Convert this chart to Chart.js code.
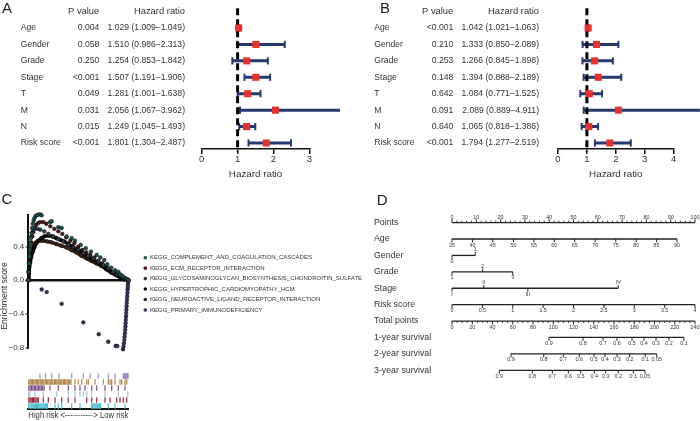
<!DOCTYPE html>
<html>
<head>
<meta charset="utf-8">
<script src="https://cdn.jsdelivr.net/npm/chart.js@4.4.1/dist/chart.umd.min.js"></script>
<style>
  body{margin:0;background:#fff}
  #fig{position:relative;width:700px;height:421px;overflow:hidden;background:#fff}
  canvas{position:absolute}
</style>
</head>
<body>
<div id="fig">
  <canvas id="chartA" width="340" height="180" style="left:0;top:0"></canvas>
  <canvas id="chartB" width="350" height="180" style="left:350px;top:0"></canvas>
  <canvas id="chartD" width="360" height="241" style="left:340px;top:180px"></canvas>
  <canvas id="chartC" width="380" height="185" style="left:0;top:180px"></canvas>
  <canvas id="chartRug" width="150" height="56" style="left:0;top:365px"></canvas>
</div>
<script>
// ---- forest plots (A: univariate, B: multivariate)
const rowLabels = ["Age","Gender","Grade","Stage","T","M","N","Risk score"];

const pA  = ["0.004","0.058","0.250","<0.001","0.049","0.031","0.015","<0.001"];
const hrA = [1.029,1.510,1.254,1.507,1.281,2.056,1.249,1.801];
const loA = [1.009,0.986,0.853,1.191,1.001,1.067,1.045,1.304];
const hiA = [1.049,2.313,1.842,1.906,1.638,3.962,1.493,2.487];

const pB  = ["<0.001","0.210","0.253","0.148","0.642","0.091","0.640","<0.001"];
const hrB = [1.042,1.333,1.266,1.394,1.084,2.089,1.065,1.794];
const loB = [1.021,0.850,0.845,0.888,0.771,0.889,0.818,1.277];
const hiB = [1.063,2.089,1.898,2.189,1.525,4.911,1.386,2.519];

const ticksA = [0,1,2,3];
const ticksB = [0,1,2,3,4];

// ---- GSEA running enrichment scores (C), [rank %, ES]
const esNames = [
  "KEGG_COMPLEMENT_AND_COAGULATION_CASCADES",
  "KEGG_ECM_RECEPTOR_INTERACTION",
  "KEGG_GLYCOSAMINOGLYCAN_BIOSYNTHESIS_CHONDROITIN_SULFATE",
  "KEGG_HYPERTROPHIC_CARDIOMYOPATHY_HCM",
  "KEGG_NEUROACTIVE_LIGAND_RECEPTOR_INTERACTION",
  "KEGG_PRIMARY_IMMUNODEFICIENCY"
];
const esComplement = [[0,0],[0.4,0.1],[0.8,0.2],[1.2,0.28],[1.6,0.36],[2,0.43],[2.6,0.5],[3.2,0.56],[3.8,0.62],[4.5,0.67],[5.3,0.71],[6.2,0.74],[7.2,0.76],[8.5,0.77],[10,0.78],[12,0.78],[13.4,0.77],[21.7,0.69],[23.4,0.7],[30,0.63],[33.4,0.62],[38.4,0.52],[43.4,0.5],[46.7,0.47],[52.4,0.42],[57.4,0.38],[62.7,0.34],[68.4,0.3],[72,0.27],[76,0.24],[79,0.19],[83,0.15],[87,0.12],[90,0.1],[92,0.07],[94,0.05],[96,0.03],[97.5,0.02],[99,0.01],[100,0]];
const esEcm = [[0,0],[0.5,0.12],[1,0.22],[1.5,0.3],[2.2,0.38],[3,0.45],[4,0.52],[5,0.57],[6.5,0.62],[8,0.66],[10,0.68],[12,0.69],[15,0.69],[18,0.67],[22,0.64],[26,0.61],[30,0.58],[34,0.55],[38,0.51],[42,0.47],[46,0.44],[50,0.4],[54,0.36],[58,0.33],[62,0.3],[66,0.27],[70,0.23],[74,0.2],[78,0.16],[82,0.12],[86,0.09],[90,0.06],[93,0.04],[96,0.02],[100,0]];
const esGlyco = [[0,0],[0.3,0.1],[0.7,0.2],[1.1,0.3],[1.6,0.38],[2.2,0.45],[3,0.52],[4,0.57],[5.2,0.6],[7,0.62],[9,0.61],[12,0.6],[16,0.58],[20,0.55],[25,0.52],[30,0.49],[35,0.46],[40,0.42],[45,0.39],[50,0.36],[55,0.32],[60,0.29],[65,0.26],[70,0.22],[75,0.18],[80,0.14],[85,0.1],[89,0.07],[93,0.05],[95.5,0.03],[98,0.015],[100,0]];
const esHcm = [[0,0],[0.5,0.08],[1,0.15],[2,0.22],[3,0.28],[4.5,0.34],[6,0.39],[8,0.44],[10,0.47],[13,0.5],[16,0.52],[20,0.53],[24,0.52],[28,0.5],[32,0.48],[36,0.46],[40,0.43],[44,0.4],[48,0.37],[52,0.34],[56,0.31],[60,0.28],[64,0.25],[68,0.22],[72,0.19],[76,0.16],[80,0.12],[84,0.09],[88,0.06],[92,0.03],[96,0.01],[100,0]];
const esNeuro = [[0,0],[0.5,0.1],[1,0.18],[2,0.26],[3,0.32],[4,0.37],[5.5,0.41],[7,0.44],[9,0.46],[12,0.47],[15,0.47],[19,0.46],[23,0.45],[28,0.43],[33,0.41],[38,0.39],[43,0.36],[48,0.33],[53,0.29],[58,0.26],[63,0.23],[68,0.2],[73,0.17],[78,0.13],[83,0.09],[88,0.06],[92,0.04],[95,0.03],[97,0.02],[100,0]];
const esImmuno = [[13.4,-0.11],[18.4,-0.14],[33.4,-0.28],[55,-0.5],[70.4,-0.64],[80,-0.73],[87.4,-0.78],[89,-0.78],[94.7,-0.82],[95.2,-0.79],[95.6,-0.75],[96,-0.71],[96.3,-0.67],[96.6,-0.63],[96.9,-0.59],[97.1,-0.55],[97.3,-0.51],[97.5,-0.47],[97.7,-0.43],[97.9,-0.39],[98.1,-0.35],[98.3,-0.31],[98.5,-0.27],[98.7,-0.23],[98.9,-0.19],[99.1,-0.15],[99.3,-0.11],[99.5,-0.08],[99.7,-0.05],[99.9,-0.02],[100,0]];
const esSeries = [esComplement, esEcm, esGlyco, esHcm, esNeuro, esImmuno];
const esTicks = [0.4, 0, -0.4, -0.8];

// gene hit positions (rank %) for the six rug rows
const rugLavender = [11.7,17.4,23.4,30.7,43.4,55,61.7,70,80,86.7,95,95.6,96.2,96.8,97.4,98,98.6,99.2,99.8];
const rugTan = [0.5,1.8,3,4.2,5.5,6.8,8,9.3,10.6,11.8,13,14.3,15.6,17,18.2,19.5,20.8,22,23.4,24.6,26,27.2,28.5,29.8,31,32.4,33.6,35,36.2,37.5,38.8,40,41.4,42.6,46.7,50,53.4,58.4,60,66.7,75,80,81.7,83.4,86.7,91.7,93.4,96.7,98.4];
const rugPurple = [0.5,1.8,3.2,4.6,6,7.4,8.8,10.2,11.6,13,14.4,15.8,21.7,30,40,46.7,51.7,56.7,63.4,68.4,76.7,83.4,90,96.7];
const rugBlue = [0.5,1.5,6.7,15,28.4,40,46.7,51.7,55,58.4,63.4,76.7,90,99.5];
const rugRed = [0.5,1.7,2.9,4.1,5.3,6.5,7.7,8.9,10,15,20,26.7,33.4,40,46.7,58.4,63.4,68.4,76.7,81.7,88.4,91.7,95,98.4];
const rugCyan = [0.5,1.6,2.7,3.8,4.9,6,7.1,8.2,9.3,10.4,11.5,12.6,13.7,14.8,15.9,17,18.1,19.2,26.7,30,33.4,43.4,51.7,63.4,64.5,65.6,66.7,67.8,69,70,71.2,72.3,80,86.7,96.7];
const rugRows = [rugLavender, rugTan, rugPurple, rugBlue, rugRed, rugCyan];

// ---- nomogram (D); positions in points (0-100) or total points (0-240)
const nomoRows = ["Points","Age","Gender","Grade","Stage","Risk score","Total points","1-year survival","2-year survival","3-year survival"];
const nomoPointsLabels = ["0","10","20","30","40","50","60","70","80","90","100"];
const nomoPointsPos = [0,10,20,30,40,50,60,70,80,90,100];
const nomoAgeLabels = ["35","40","45","50","55","60","65","70","75","80","85","90"];
const nomoAgePos = [0,8.4,16.8,25.3,33.7,42.1,50.5,58.9,67.4,75.8,84.2,92.6];
const nomoGenderLabels = ["0","1"];
const nomoGenderPos = [0,9.6];
const nomoGradeLabels = ["1","2","3"];
const nomoGradePos = [0,12.6,25];
const nomoStageLabels = ["I","II","III","IV"];
const nomoStagePos = [0,13.1,31.2,68.4];
const nomoRiskLabels = ["0","0.5","1","1.5","2","2.5","3","3.5","4"];
const nomoRiskPos = [0,12.5,25,37.5,50,62.5,75,87.5,100];
const nomoTotalLabels = ["0","20","40","60","80","100","120","140","160","180","200","220","240"];
const nomoTotalPos = [0,20,40,60,80,100,120,140,160,180,200,220,240];
const surv1Labels = ["0.9","0.8","0.7","0.6","0.5","0.4","0.3","0.2","0.1"];
const surv1Pos = [95.8,129.4,149.2,163,177.8,189.6,201.5,214.3,229.1];
const surv2Labels = ["0.9","0.8","0.7","0.6","0.5","0.4","0.3","0.2","0.1","0.05"];
const surv2Pos = [58.3,90.6,109.9,125.7,140.2,151.1,163,175.5,190.9,202.2];
const surv3Labels = ["0.9","0.8","0.7","0.6","0.5","0.4","0.3","0.2","0.1","0.05"];
const surv3Pos = [46.7,79.3,99.1,114.9,127.1,140.5,151.8,164.2,179.1,190.6];

const FONT = '"Liberation Sans", Arial, Helvetica, sans-serif';
Chart.defaults.font.family = FONT;
Chart.defaults.color = "#333";

const NAVY = "#26386e";
const RED = "#e5302c";

const forestText = {
  id: "forestText",
  afterDraw(chart, args, o){
    const ctx = chart.ctx;
    const y = chart.scales.y;
    ctx.save();
    ctx.fillStyle = "#333";
    ctx.textBaseline = "middle";
    ctx.textAlign = "right";
    ctx.font = "9.4px " + FONT;
    const hy = y.getPixelForValue(-1.03);
    ctx.fillText("P value", o.pX, hy);
    ctx.fillText("Hazard ratio", o.hrX, hy);
    ctx.font = "8.6px " + FONT;
    rowLabels.forEach((lab, i) => {
      const py = y.getPixelForValue(i);
      ctx.textAlign = "left";
      ctx.fillText(lab, o.labelX, py);
      ctx.textAlign = "right";
      ctx.fillText(o.p[i], o.pX, py);
      ctx.fillText(`${o.hr[i].toFixed(3)} (${o.lo[i].toFixed(3)}–${o.hi[i].toFixed(3)})`, o.hrX, py);
    });
    ctx.font = "15px " + FONT;
    ctx.textAlign = "left";
    ctx.textBaseline = "top";
    ctx.fillStyle = "#222";
    ctx.fillText(o.letter, o.letterX, 1);
    ctx.restore();
  }
};

function buildForest(id, o){
  const canvas = document.getElementById(id);
  const ci = [], caps = [], marks = [];
  o.hr.forEach((hr, i) => {
    ci.push({x:o.lo[i], y:i}, {x:o.hi[i], y:i}, {x:null, y:null});
    caps.push({x:o.lo[i], y:i}, {x:o.hi[i], y:i});
    marks.push({x:hr, y:i});
  });
  const xMax = o.ticks[o.ticks.length - 1];
  return new Chart(canvas, {
    type: "scatter",
    data: {
      datasets: [
        { data: marks, pointStyle:"rect", pointRadius:5, pointBackgroundColor:RED, pointBorderWidth:0, clip:false },
        { type:"line", data:[{x:1,y:-1.2},{x:1,y:7.53}], borderColor:"#000", borderWidth:3, borderDash:[7,4], pointRadius:0, clip:false },
        { data: caps, pointStyle:"line", pointRotation:90, pointRadius:3.6, pointBorderColor:NAVY, pointBorderWidth:2, clip:false },
        { type:"line", data: ci, borderColor:NAVY, borderWidth:3, pointRadius:0, spanGaps:false, clip:false }
      ]
    },
    options: {
      responsive:false, animation:false, events:[],
      layout:{ padding:{ left:o.x0, right:canvas.width - (o.x0 + o.unit * xMax), top:6, bottom:0 } },
      plugins:{ legend:{display:false}, tooltip:{enabled:false}, forestText:o },
      scales:{
        x:{
          type:"linear", min:0, max:xMax, position:"bottom",
          afterBuildTicks: s => { s.ticks = o.ticks.map(v => ({value:v})); },
          afterFit: s => { s.height = 31; },
          border:{ color:"#111", width:1.5 },
          grid:{ drawOnChartArea:false, drawTicks:true, tickLength:5, color:"#111", lineWidth:1.5 },
          ticks:{ color:"#333", font:{size:9.5}, padding:0 },
          title:{ display:true, text:"Hazard ratio", color:"#333", font:{size:9.8}, padding:0 }
        },
        y:{ type:"linear", display:false, reverse:true, min:-1.34, max:7.365 }
      }
    },
    plugins:[forestText]
  });
}

buildForest("chartA", { p:pA, hr:hrA, lo:loA, hi:hiA, ticks:ticksA, x0:201.7, unit:35.9,
  labelX:20.7, pX:99.3, hrX:185, letter:"A", letterX:2 });
buildForest("chartB", { p:pB, hr:hrB, lo:loB, hi:hiB, ticks:ticksB, x0:208, unit:28.9,
  labelX:24.3, pX:103.3, hrX:189, letter:"B", letterX:30 });

// ---- C: enrichment plot
const esColors = ["#1f4f50","#4e1b1d","#2e3944","#0d0d0d","#3a2416","#36325a"];
const esDense  = [false,false,false,true,true,false];
const esDrawOrder = [0,5,1,2,3,4];

const esDecor = {
  id: "esDecor",
  afterDraw(chart){
    const ctx = chart.ctx;
    ctx.save();
    ctx.fillStyle = "#222";
    ctx.font = "15px " + FONT;
    ctx.textAlign = "left";
    ctx.textBaseline = "top";
    ctx.fillText("C", 1.5, 12.5);
    ctx.save();
    ctx.translate(5, 116);
    ctx.rotate(-Math.PI / 2);
    ctx.textAlign = "center";
    ctx.textBaseline = "middle";
    ctx.font = "8.7px " + FONT;
    ctx.fillStyle = "#333";
    ctx.fillText("Enrichment score", 0, 0);
    ctx.restore();
    esNames.forEach((n, i) => {
      const y = 77.7 + i * 10.45;
      ctx.beginPath();
      ctx.arc(145.3, y, 1.8, 0, Math.PI * 2);
      ctx.fillStyle = esColors[i];
      ctx.fill();
      ctx.fillStyle = "#333";
      ctx.font = "6px " + FONT;
      ctx.textAlign = "left";
      ctx.textBaseline = "middle";
      ctx.fillText(n, 150, y);
    });
    ctx.restore();
  }
};

new Chart(document.getElementById("chartC"), {
  type: "scatter",
  data: {
    datasets: esSeries.map((s, i) => ({
      label: esNames[i],
      data: s.map(([x, y]) => ({x, y})),
      order: esDrawOrder[i],
      showLine: esDense[i],
      borderColor: esColors[i],
      borderWidth: 3.5,
      pointRadius: 1.9,
      pointBackgroundColor: esColors[i],
      pointBorderColor: "#000",
      pointBorderWidth: 0.4,
      clip: false
    }))
  },
  options: {
    responsive:false, animation:false, events:[],
    layout:{ padding:{ left:0, right:380 - 128.3, top:34.5, bottom:16.5 } },
    plugins:{ legend:{display:false}, tooltip:{enabled:false} },
    scales:{
      x:{ type:"linear", min:0, max:100, display:false },
      y:{
        type:"linear", min:-0.81, max:0.78, position:"left",
        afterBuildTicks: s => { s.ticks = esTicks.map(v => ({value:v})); },
        afterFit: s => { s.width = 28.3; },
        border:{ color:"#111", width:2 },
        grid:{
          drawOnChartArea:true, drawTicks:true, tickLength:3, tickColor:"#333", tickWidth:1,
          color: c => (c.tick && c.tick.value === 0) ? "#111" : "rgba(0,0,0,0)",
          lineWidth: c => (c.tick && c.tick.value === 0) ? 2.5 : 0
        },
        ticks:{ color:"#333", font:{size:8}, padding:1,
          callback: v => v === 0 ? "0.0" : v.toFixed(1).replace("-", "−") }
      }
    }
  },
  plugins:[esDecor]
});

// rug of gene hits
const rugColors = ["#9b8cc6","#b08545","#7a4f86","#a8c0e0","#9b2c3c","#4cc0cc"];
new Chart(document.getElementById("chartRug"), {
  type: "scatter",
  data: {
    datasets: rugRows.map((r, i) => ({
      data: r.map(v => ({x:v, y:i + 0.5})),
      pointStyle:"line", pointRotation:90, pointRadius:2.8,
      pointBorderColor:rugColors[i], pointBorderWidth:1.2, clip:false
    }))
  },
  options: {
    responsive:false, animation:false, events:[],
    layout:{ padding:{ left:28.3, right:150 - 128.3, top:8, bottom:0 } },
    plugins:{ legend:{display:false}, tooltip:{enabled:false} },
    scales:{
      x:{
        type:"linear", min:0, max:100,
        afterFit: s => { s.height = 12; },
        border:{ color:"#111", width:2 },
        grid:{ display:false },
        ticks:{ display:false },
        title:{ display:true, text:"High risk <-----------> Low risk", color:"#333", font:{size:9}, padding:0 }
      },
      y:{ type:"linear", display:false, min:0, max:6, reverse:true }
    }
  }
});

// ---- D: nomogram
const nomoSpecs = [
  {row:0, axis:"x",  labels:nomoPointsLabels, pos:nomoPointsPos, side:"a", minor:2},
  {row:1, axis:"x",  labels:nomoAgeLabels,    pos:nomoAgePos,    side:"b"},
  {row:2, axis:"x",  labels:nomoGenderLabels, pos:nomoGenderPos, side:["b","a"]},
  {row:3, axis:"x",  labels:nomoGradeLabels,  pos:nomoGradePos,  side:["b","a","b"]},
  {row:4, axis:"x",  labels:nomoStageLabels,  pos:nomoStagePos,  side:["b","a","b","a"]},
  {row:5, axis:"x",  labels:nomoRiskLabels,   pos:nomoRiskPos,   side:"b"},
  {row:6, axis:"x2", labels:nomoTotalLabels,  pos:nomoTotalPos,  side:"b", minor:5},
  {row:7, axis:"x2", labels:surv1Labels,      pos:surv1Pos,      side:"b"},
  {row:8, axis:"x2", labels:surv2Labels,      pos:surv2Pos,      side:"b"},
  {row:9, axis:"x2", labels:surv3Labels,      pos:surv3Pos,      side:"b"}
];
const sideOf = (s, j) => Array.isArray(s.side) ? s.side[j] : s.side;

const nomoSets = [];
nomoSpecs.forEach(s => {
  const first = s.pos[0], last = s.pos[s.pos.length - 1];
  nomoSets.push({ type:"line", xAxisID:s.axis, data:[{x:first, y:s.row}, {x:last, y:s.row}],
    borderColor:"#222", borderWidth:1.3, pointRadius:0, clip:false });
  nomoSets.push({ xAxisID:s.axis,
    data: s.pos.map((p, j) => ({x:p, y:s.row + (sideOf(s, j) === "a" ? -0.1 : 0.1)})),
    pointStyle:"line", pointRotation:90, pointRadius:1.7, pointBorderColor:"#222", pointBorderWidth:1, clip:false });
  if (s.minor) {
    const minor = [];
    for (let v = first + s.minor; v < last; v += s.minor) {
      if (!s.pos.includes(v)) minor.push({x:v, y:s.row + (s.side === "a" ? -0.06 : 0.06)});
    }
    nomoSets.push({ xAxisID:s.axis, data:minor, pointStyle:"line", pointRotation:90, pointRadius:1,
      pointBorderColor:"#222", pointBorderWidth:0.8, clip:false });
  }
});

const nomoDecor = {
  id: "nomoDecor",
  afterDraw(chart){
    const ctx = chart.ctx;
    const y = chart.scales.y;
    ctx.save();
    ctx.fillStyle = "#333";
    ctx.font = "5.4px " + FONT;
    ctx.textAlign = "center";
    ctx.textBaseline = "middle";
    nomoSpecs.forEach(s => {
      const sc = chart.scales[s.axis];
      const py = y.getPixelForValue(s.row);
      s.labels.forEach((lab, j) => {
        const px = sc.getPixelForValue(s.pos[j]);
        ctx.fillText(lab, px, sideOf(s, j) === "a" ? py - 5.5 : py + 6);
      });
    });
    ctx.fillStyle = "#222";
    ctx.font = "15px " + FONT;
    ctx.textAlign = "left";
    ctx.textBaseline = "top";
    ctx.fillText("D", 36.7, 13);
    ctx.restore();
  }
};

new Chart(document.getElementById("chartD"), {
  type: "scatter",
  data: { datasets: nomoSets },
  options: {
    responsive:false, animation:false, events:[],
    layout:{ padding:{ left:34, right:5, top:26.2, bottom:34.3 } },
    plugins:{ legend:{display:false}, tooltip:{enabled:false} },
    scales:{
      x:{ type:"linear", min:0, max:100, display:false },
      x2:{ type:"linear", min:0, max:240, display:false, position:"bottom" },
      y:{
        type:"linear", min:-1, max:10, reverse:true, position:"left",
        afterBuildTicks: s => { s.ticks = nomoRows.map((_, i) => ({value:i})); },
        afterFit: s => { s.width = 78; },
        border:{ display:false },
        grid:{ display:false },
        ticks:{ callback: v => nomoRows[v], crossAlign:"far", color:"#333", font:{size:8.8}, padding:0, autoSkip:false }
      }
    }
  },
  plugins:[nomoDecor]
});
</script>
</body>
</html>
